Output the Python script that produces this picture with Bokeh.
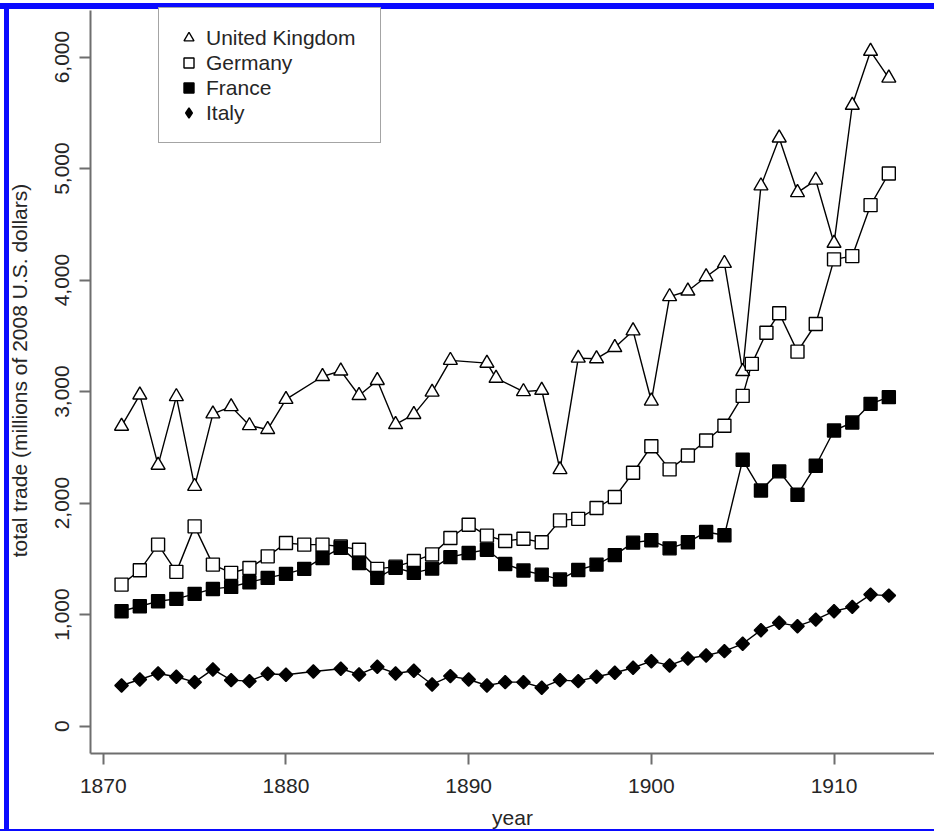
import numpy as np
from bokeh.plotting import figure
from bokeh.models import (Range1d, FixedTicker, NumeralTickFormatter, Legend,
                          LegendItem)
from bokeh.embed import file_html
from bokeh.resources import INLINE

# ---------------- data ----------------
uk_year = [1871, 1872, 1873, 1874, 1875, 1876, 1877, 1878, 1879, 1880, 1882,
           1883, 1884, 1885, 1886, 1887, 1888, 1889, 1891, 1891.5, 1893, 1894,
           1895, 1896, 1897, 1898, 1899, 1900, 1901, 1902, 1903, 1904, 1905,
           1906, 1907, 1908, 1909, 1910, 1911, 1912, 1913]
uk_val = [2690, 2970, 2340, 2955, 2150, 2800, 2865, 2695, 2660, 2930, 3135,
          3185, 2965, 3100, 2705, 2795, 2995, 3280, 3255, 3120, 3000, 3012,
          2300, 3300, 3295, 3395, 3545, 2915, 3852, 3902, 4030, 4150, 3180,
          4845, 5275, 4785, 4897, 4330, 5568, 6052, 5812]

de_year = [1871, 1872, 1873, 1874, 1875, 1876, 1877, 1878, 1879, 1880, 1881,
           1882, 1883, 1884, 1885, 1886, 1887, 1888, 1889, 1890, 1891, 1892,
           1893, 1894, 1895, 1896, 1897, 1898, 1899, 1900, 1901, 1902, 1903,
           1904, 1905, 1905.5, 1906.3, 1907, 1908, 1909, 1910, 1911, 1912, 1913]
de_val = [1269, 1397, 1627, 1383, 1791, 1448, 1374, 1418, 1522, 1642, 1627,
          1627, 1610, 1582, 1410, 1430, 1480, 1540, 1687, 1806, 1708, 1660,
          1680, 1648, 1845, 1858, 1956, 2054, 2272, 2510, 2302, 2427, 2561,
          2693, 2961, 3248, 3528, 3702, 3358, 3606, 4186, 4215, 4672, 4956]

fr_year = list(range(1871, 1914))
fr_val = [1030, 1075, 1119, 1141, 1186, 1230, 1248, 1290, 1329, 1365, 1410,
          1508, 1598, 1463, 1329, 1420, 1374, 1412, 1515, 1552, 1582, 1454,
          1395, 1358, 1314, 1400, 1448, 1533, 1645, 1666, 1594, 1648, 1741,
          1711, 2388, 2113, 2284, 2075, 2335, 2651, 2722, 2890, 2950]

it_year = [1871, 1872, 1873, 1874, 1875, 1876, 1877, 1878, 1879, 1880, 1881.5,
           1883, 1884, 1885, 1886, 1887, 1888, 1889, 1890, 1891, 1892, 1893,
           1894, 1895, 1896, 1897, 1898, 1899, 1900, 1901, 1902, 1903, 1904,
           1905, 1906, 1907, 1908, 1909, 1910, 1911, 1912, 1913]
it_val = [364, 418, 472, 442, 394, 508, 412, 403, 469, 460, 490,
          514, 463, 532, 472, 496, 373, 448, 418, 364, 394, 394,
          344, 412, 403, 442, 478, 523, 582, 544, 606, 633, 672,
          738, 860, 926, 896, 955, 1030, 1069, 1179, 1170]

x_ticks = [1870, 1880, 1890, 1900, 1910]
y_ticks = [0, 1000, 2000, 3000, 4000, 5000, 6000]
labels = ["United Kingdom", "Germany", "France", "Italy"]

# ---------------- figure ----------------
SHIFT = 13
W, H = 934, 831 + SHIFT
FONT = "Liberation Sans"
AX = "#6e6e6e"
TXT = "#262626"
BLUE = "#0a0aff"

grad = f"linear-gradient({BLUE},{BLUE})"
frame_css = (f"{grad} 0px {SHIFT + 3}px / {W}px 6px no-repeat, "
             f"{grad} 4px {SHIFT + 3}px / 5px {H}px no-repeat, "
             f"{grad} 0px {H - 2}px / {W}px 2px no-repeat, #ffffff")

p = figure(width=W, height=H, output_backend="svg", toolbar_location=None,
           x_range=Range1d(1869.30, 1915.50), y_range=Range1d(-246, 6624),
           min_border_left=90, min_border_right=0, min_border_top=0,
           min_border_bottom=77, background_fill_color=None,
           border_fill_color=None)
p.styles = {"position": "fixed", "left": "0px", "top": f"-{SHIFT}px",
            "background": frame_css}
p.grid.visible = False
p.outline_line_color = None

p.xaxis.ticker = FixedTicker(ticks=x_ticks)
p.yaxis.ticker = FixedTicker(ticks=y_ticks)
p.yaxis.formatter = NumeralTickFormatter(format="0,0")
p.yaxis.major_label_orientation = "vertical"
p.yaxis.bounds = (-246, 6420)
p.xaxis.axis_label = "year"
p.yaxis.axis_label = "total trade (millions of 2008 U.S. dollars)"

for ax in (p.xaxis[0], p.yaxis[0]):
    ax.axis_line_color = AX
    ax.axis_line_width = 2
    ax.major_tick_line_color = AX
    ax.major_tick_line_width = 2
    ax.major_tick_out = 11
    ax.major_tick_in = 0
    ax.minor_tick_line_color = None
    ax.major_label_text_font = FONT
    ax.major_label_text_font_size = "21px"
    ax.major_label_text_color = TXT
    ax.axis_label_text_font = FONT
    ax.axis_label_text_font_size = "21px"
    ax.axis_label_text_font_style = "normal"
    ax.axis_label_text_color = TXT

p.xaxis.major_label_standoff = 14
p.xaxis.axis_label_standoff = 10
p.yaxis.major_label_standoff = 10
p.yaxis.axis_label_standoff = 22

LW = 1.4
series = [
    (uk_year, uk_val, "triangle", 14, "white", 0.0),
    (de_year, de_val, "square", 13, "white", 0.0),
    (fr_year, fr_val, "square", 13, "black", 0.0),
    (it_year, it_val, "square", 9.5, "black", np.pi / 4),
]
marks = []
for xs, ys, mk, sz, fill, ang in series:
    p.line(xs, ys, line_color="black", line_width=LW)
    r = p.scatter(xs, ys, marker=mk, size=sz, fill_color=fill,
                  line_color="black", line_width=LW, angle=ang)
    marks.append(r)

# legend-only swatch for the diamond (legend swatches ignore the angle);
# its single point is NaN so nothing is drawn in the plot area
it_key = p.scatter([np.nan], [np.nan], marker="diamond", size=13,
                   fill_color="black", line_color="black", line_width=LW)
legend_renderers = [marks[0], marks[1], marks[2], it_key]

legend = Legend(items=[LegendItem(label=l, renderers=[r])
                       for l, r in zip(labels, legend_renderers)],
                location=(68, 610), orientation="vertical",
                glyph_width=25, glyph_height=25, spacing=0, padding=17,
                label_standoff=5, label_width=157, margin=0,
                label_text_font=FONT, label_text_font_size="21px",
                label_text_color=TXT, border_line_color="#4a4a4a",
                border_line_width=1.5, background_fill_color="white",
                background_fill_alpha=1.0)
p.add_layout(legend, "center")

open("out.html", "w").write(file_html(p, INLINE))
